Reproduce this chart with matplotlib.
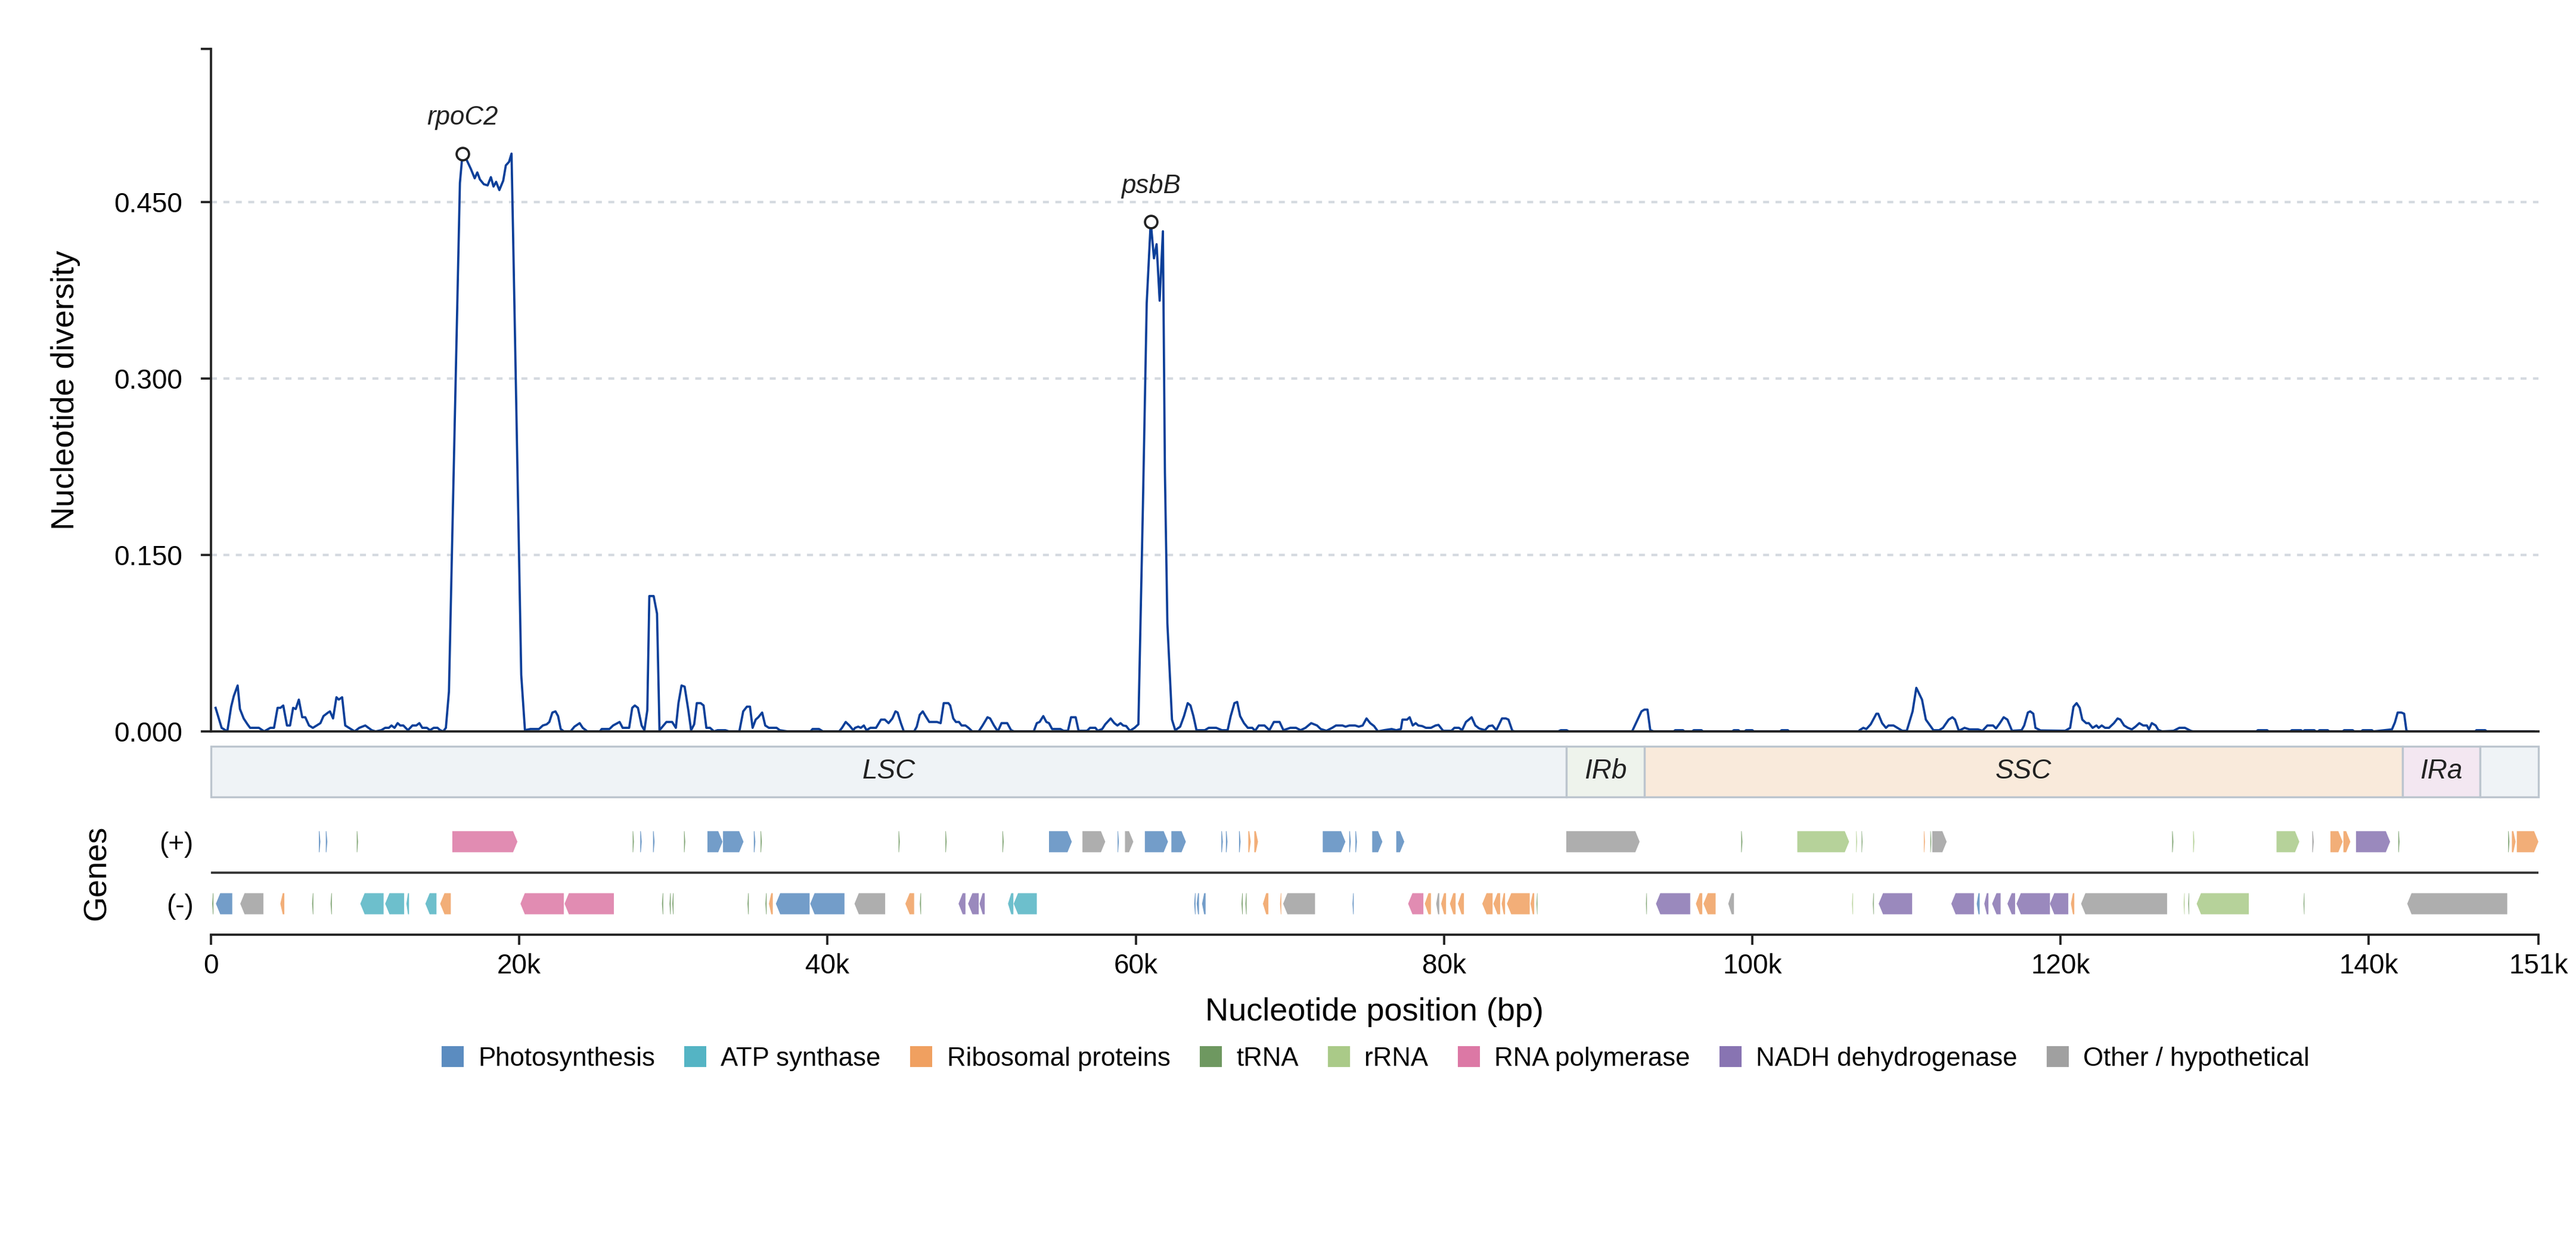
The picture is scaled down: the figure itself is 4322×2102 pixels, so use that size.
import numpy as np
import matplotlib
matplotlib.use("Agg")
import matplotlib.pyplot as plt
from matplotlib.patches import Polygon, Rectangle, Patch

plt.rcParams['font.family'] = ['Liberation Sans', 'DejaVu Sans']

# sliding window nucleotide diversity (window centre in kb, Pi)
pos_kb = [
    0.30, 0.69, 1.06, 1.31, 1.48, 1.73, 1.88, 2.12, 2.37, 2.54, 3.11, 3.45, 3.85, 4.09, 4.32, 4.51,
    4.69, 4.93, 5.13, 5.33, 5.50, 5.70, 5.92, 6.12, 6.36, 6.61, 6.86, 7.10, 7.30, 7.60, 7.72, 7.92,
    8.14, 8.29, 8.51, 8.71, 9.08, 9.32, 9.62, 10.01, 10.43, 10.68, 11.05, 11.30, 11.54, 11.71, 11.91,
    12.11, 12.28, 12.48, 12.78, 13.07, 13.32, 13.52, 13.71, 14.01, 14.21, 14.45, 14.70, 14.87, 15.07,
    15.24, 15.44, 16.15, 16.32, 16.61, 16.86, 17.11, 17.28, 17.45, 17.70, 17.95, 18.16, 18.33, 18.50,
    18.71, 18.96, 19.13, 19.34, 19.50, 19.63, 20.13, 20.37, 20.72, 21.28, 21.53, 21.78, 21.95, 22.15,
    22.35, 22.52, 22.69, 22.89, 23.33, 23.58, 23.92, 24.12, 24.42, 25.23, 25.35, 25.85, 26.09, 26.51,
    26.71, 27.13, 27.33, 27.50, 27.70, 27.94, 28.12, 28.31, 28.44, 28.72, 28.94, 29.10, 29.55, 29.92,
    30.16, 30.33, 30.53, 30.73, 30.97, 31.15, 31.35, 31.52, 31.77, 31.96, 32.14, 32.38, 32.63, 32.87,
    33.37, 33.61, 34.28, 34.53, 34.77, 34.97, 35.14, 35.34, 35.51, 35.76, 35.96, 36.20, 36.70, 36.90,
    37.40, 38.90, 39.03, 39.45, 39.70, 40.76, 40.94, 41.18, 41.42, 41.67, 41.79, 41.99, 42.16, 42.36,
    42.53, 42.78, 43.15, 43.47, 43.72, 43.96, 44.21, 44.41, 44.55, 44.76, 44.95, 45.62, 45.79, 45.98,
    46.18, 46.36, 46.60, 47.10, 47.34, 47.54, 47.84, 47.96, 48.16, 48.33, 48.53, 48.70, 48.95, 49.15,
    49.39, 49.81, 50.06, 50.38, 50.55, 50.80, 51.05, 51.29, 51.66, 51.91, 52.10, 53.38, 53.58, 53.76,
    54.00, 54.20, 54.37, 54.57, 55.11, 55.31, 55.60, 55.80, 56.10, 56.29, 56.84, 57.03, 57.38, 57.53,
    57.82, 58.02, 58.37, 58.61, 58.81, 59.01, 59.18, 59.38, 59.62, 59.92, 60.17, 60.46, 60.71, 60.97,
    61.18, 61.35, 61.55, 61.76, 61.89, 62.05, 62.35, 62.56, 62.88, 63.13, 63.37, 63.55, 63.74, 63.94,
    64.48, 64.73, 65.22, 65.59, 65.96, 66.16, 66.40, 66.58, 66.77, 67.02, 67.27, 67.56, 67.74, 67.98,
    68.35, 68.67, 68.96, 69.33, 69.58, 70.02, 70.40, 70.69, 71.01, 71.38, 71.76, 72.00, 72.37, 72.74,
    72.99, 73.41, 73.61, 73.86, 74.23, 74.47, 74.72, 74.97, 75.21, 75.46, 75.71, 76.10, 76.60, 76.90,
    77.20, 77.30, 77.60, 77.77, 77.97, 78.16, 78.33, 78.58, 78.83, 79.15, 79.45, 79.64, 79.94, 80.48,
    80.67, 80.97, 81.17, 81.42, 81.61, 81.79, 82.03, 82.28, 82.65, 82.90, 83.14, 83.39, 83.76, 84.01,
    84.18, 84.43, 84.60, 87.40, 87.58, 87.95, 88.10, 92.20, 92.81, 93.00, 93.20, 93.38, 93.60, 94.90,
    95.00, 95.50, 95.60, 96.10, 96.20, 96.70, 96.80, 98.70, 98.80, 99.10, 99.20, 99.50, 99.60, 100.00,
    100.10, 101.80, 101.90, 102.30, 102.40, 106.90, 106.96, 107.20, 107.40, 107.68, 108.05, 108.17,
    108.42, 108.67, 108.84, 109.16, 109.41, 109.73, 110.02, 110.40, 110.64, 111.01, 111.26, 111.75,
    112.12, 112.37, 112.74, 112.98, 113.15, 113.40, 113.77, 114.09, 114.64, 114.93, 115.25, 115.62,
    115.81, 116.06, 116.31, 116.55, 116.85, 117.47, 117.64, 117.88, 118.03, 118.23, 118.37, 118.70,
    120.30, 120.62, 120.84, 121.04, 121.24, 121.41, 121.66, 121.83, 122.08, 122.33, 122.47, 122.67,
    122.89, 123.14, 123.46, 123.70, 123.88, 124.12, 124.37, 124.62, 124.86, 125.11, 125.36, 125.60,
    125.73, 125.92, 126.17, 126.34, 126.59, 127.33, 127.70, 128.07, 128.44, 128.60, 132.70, 132.80,
    133.40, 133.50, 134.90, 135.00, 135.60, 135.70, 135.84, 136.46, 136.56, 136.70, 136.80, 137.33,
    137.43, 138.30, 138.40, 138.95, 139.05, 139.50, 139.60, 140.20, 140.30, 141.50, 141.69, 141.87,
    142.11, 142.29, 142.44, 142.60, 146.90, 146.98, 147.55, 147.65, 150.70,
]
diversity = [
    0.020, 0.003, 0.000, 0.021, 0.030, 0.039, 0.019, 0.011, 0.006, 0.003, 0.003, 0.000, 0.003, 0.003, 0.020, 0.020,
    0.022, 0.005, 0.005, 0.020, 0.019, 0.027, 0.012, 0.012, 0.005, 0.003, 0.005, 0.007, 0.013, 0.016, 0.017, 0.011,
    0.029, 0.027, 0.029, 0.005, 0.002, 0.000, 0.003, 0.005, 0.001, 0.000, 0.001, 0.003, 0.003, 0.005, 0.003,
    0.007, 0.005, 0.005, 0.001, 0.005, 0.005, 0.007, 0.003, 0.003, 0.001, 0.003, 0.003, 0.001, 0.000,
    0.003, 0.034, 0.466, 0.491, 0.485, 0.478, 0.470, 0.475, 0.469, 0.465, 0.464, 0.471, 0.463, 0.467,
    0.460, 0.468, 0.481, 0.484, 0.491, 0.402, 0.048, 0.001, 0.002, 0.002, 0.005, 0.006, 0.008, 0.016,
    0.017, 0.013, 0.002, 0.000, 0.000, 0.004, 0.007, 0.003, 0.000, 0.000, 0.002, 0.002, 0.005, 0.008,
    0.003, 0.003, 0.020, 0.022, 0.020, 0.005, 0.001, 0.018, 0.115, 0.115, 0.100, 0.001, 0.008, 0.008,
    0.003, 0.024, 0.039, 0.038, 0.018, 0.001, 0.006, 0.024, 0.024, 0.022, 0.003, 0.003, 0.000, 0.001,
    0.001, 0.000, 0.000, 0.017, 0.021, 0.021, 0.003, 0.010, 0.012, 0.016, 0.005, 0.003, 0.003, 0.001,
    0.000, 0.000, 0.002, 0.002, 0.000, 0.000, 0.003, 0.008, 0.005, 0.001, 0.003, 0.004, 0.003, 0.005,
    0.001, 0.003, 0.003, 0.010, 0.010, 0.007, 0.011, 0.017, 0.016, 0.007, 0.000, 0.000, 0.004, 0.014,
    0.017, 0.013, 0.008, 0.008, 0.007, 0.024, 0.024, 0.022, 0.011, 0.008, 0.008, 0.005, 0.005, 0.003,
    0.000, 0.000, 0.005, 0.012, 0.011, 0.005, 0.000, 0.007, 0.007, 0.001, 0.000, 0.000, 0.007, 0.008,
    0.013, 0.008, 0.007, 0.002, 0.002, 0.0005, 0.0005, 0.012, 0.012, 0.0005, 0.0005, 0.003, 0.003, 0.0005,
    0.002, 0.006, 0.011, 0.007, 0.005, 0.007, 0.005, 0.0045, 0.0005, 0.003, 0.006, 0.190, 0.364, 0.433,
    0.402, 0.414, 0.366, 0.425, 0.220, 0.092, 0.010, 0.001, 0.004, 0.013, 0.024, 0.022, 0.013, 0.001,
    0.001, 0.003, 0.003, 0.001, 0.001, 0.013, 0.024, 0.025, 0.013, 0.007, 0.003, 0.003, 0.0005, 0.005,
    0.005, 0.001, 0.008, 0.008, 0.001, 0.003, 0.003, 0.001, 0.003, 0.007, 0.005, 0.002, 0.0005, 0.003,
    0.005, 0.005, 0.004, 0.005, 0.005, 0.004, 0.005, 0.011, 0.007, 0.0045, 0.000, 0.001, 0.002, 0.001,
    0.002, 0.010, 0.010, 0.012, 0.005, 0.007, 0.005, 0.0045, 0.003, 0.003, 0.005, 0.0055, 0.0005, 0.0005,
    0.003, 0.003, 0.001, 0.008, 0.010, 0.012, 0.005, 0.0025, 0.001, 0.0045, 0.005, 0.001, 0.011, 0.011,
    0.010, 0.0005, 0.000, 0.000, 0.001, 0.001, 0.000, 0.000, 0.017, 0.0185, 0.0185, 0.001, 0.000, 0.000,
    0.001, 0.001, 0.000, 0.000, 0.001, 0.001, 0.000, 0.000, 0.001, 0.001, 0.000, 0.000, 0.001, 0.001,
    0.000, 0.000, 0.001, 0.001, 0.000, 0.000, 0.001, 0.003, 0.002, 0.006, 0.015, 0.015,
    0.007, 0.003, 0.005, 0.005, 0.003, 0.0005, 0.0005, 0.017, 0.037, 0.027, 0.010, 0.001,
    0.001, 0.003, 0.010, 0.012, 0.010, 0.0005, 0.003, 0.0017, 0.0017, 0.0005, 0.005, 0.005,
    0.0025, 0.007, 0.012, 0.010, 0.0005, 0.001, 0.005, 0.016, 0.017, 0.015, 0.003, 0.0008,
    0.0005, 0.003, 0.021, 0.024, 0.020, 0.010, 0.007, 0.007, 0.003, 0.005, 0.003, 0.005,
    0.003, 0.003, 0.007, 0.011, 0.010, 0.005, 0.003, 0.0017, 0.004, 0.007, 0.005, 0.005,
    0.0017, 0.007, 0.005, 0.0012, 0.000, 0.0005, 0.003, 0.003, 0.0005, 0.000, 0.000, 0.001,
    0.001, 0.000, 0.000, 0.001, 0.001, 0.000, 0.001, 0.001, 0.000, 0.000, 0.001, 0.001,
    0.000, 0.000, 0.001, 0.001, 0.000, 0.000, 0.001, 0.001, 0.000, 0.0017, 0.0076, 0.016,
    0.016, 0.015, 0.0005, 0.000, 0.000, 0.001, 0.001, 0.000, 0.000,
]

peak_genes = ['rpoC2', 'psbB']
peak_kb = [16.32, 60.97]

genome_kb = 151.0
xtick_kb = [0, 20, 40, 60, 80, 100, 120, 140, 151]
ytick_vals = [0.0, 0.15, 0.30, 0.45]

region_names = ['LSC', 'IRb', 'SSC', 'IRa', 'LSC']
region_start_kb = [0.0, 87.95, 93.0, 142.17, 147.23]
region_end_kb = [87.95, 93.0, 142.17, 147.23, 151.0]

# genes: (start kb, end kb, category)
plus_genes = [
    (7.00, 7.10, 'ps'), (7.45, 7.55, 'ps'), (9.46, 9.54, 'trna'), (15.66, 19.88, 'rpo'),
    (27.36, 27.44, 'trna'), (27.85, 27.95, 'ps'), (28.68, 28.78, 'ps'), (30.69, 30.77, 'trna'),
    (32.21, 33.19, 'ps'), (33.22, 34.55, 'ps'), (35.22, 35.32, 'ps'), (35.66, 35.74, 'trna'),
    (44.61, 44.69, 'trna'), (47.65, 47.73, 'trna'), (51.35, 51.43, 'trna'), (54.37, 55.85, 'ps'),
    (56.54, 58.02, 'other'), (58.82, 58.90, 'ps'), (59.30, 59.84, 'other'), (60.59, 62.09, 'ps'),
    (62.31, 63.25, 'ps'), (65.55, 65.65, 'ps'), (65.85, 65.95, 'ps'), (66.70, 66.80, 'ps'),
    (67.30, 67.46, 'rib'), (67.69, 67.93, 'rib'), (72.13, 73.60, 'ps'), (73.85, 73.95, 'ps'),
    (74.25, 74.35, 'ps'), (75.34, 76.00, 'ps'), (76.90, 77.42, 'ps'), (87.93, 92.69, 'other'),
    (99.28, 99.36, 'trna'), (102.92, 106.28, 'rrna'), (106.74, 106.80, 'rrna'), (107.09, 107.15, 'trna'),
    (111.13, 111.20, 'rib'), (111.55, 111.61, 'trna'), (111.68, 112.61, 'other'), (127.24, 127.32, 'trna'),
    (128.60, 128.68, 'rrna'), (134.01, 135.49, 'rrna'), (136.33, 136.43, 'other'), (137.51, 138.30, 'rib'),
    (138.35, 138.80, 'rib'), (139.17, 141.38, 'ndh'), (141.91, 141.99, 'trna'), (149.04, 149.12, 'trna'),
    (149.28, 149.52, 'rib'), (149.60, 151.00, 'rib'),
]
minus_genes = [
    (0.08, 0.16, 'trna'), (0.32, 1.38, 'ps'), (1.90, 3.40, 'other'), (4.50, 4.76, 'rib'),
    (6.56, 6.64, 'trna'), (7.76, 7.84, 'trna'), (9.69, 11.20, 'atp'), (11.30, 12.53, 'atp'),
    (12.68, 12.85, 'atp'), (13.91, 14.63, 'atp'), (14.87, 15.56, 'rib'), (20.08, 22.89, 'rpo'),
    (22.94, 26.14, 'rpo'), (29.26, 29.34, 'trna'), (29.75, 29.83, 'trna'), (29.93, 30.01, 'trna'),
    (34.81, 34.89, 'trna'), (35.97, 36.05, 'trna'), (36.20, 36.45, 'rib'), (36.65, 38.84, 'ps'),
    (38.88, 41.10, 'ps'), (41.75, 43.74, 'other'), (45.05, 45.62, 'rib'), (45.99, 46.07, 'trna'),
    (48.50, 48.95, 'ndh'), (49.12, 49.81, 'ndh'), (49.86, 50.20, 'ndh'), (51.71, 52.06, 'atp'),
    (52.08, 53.58, 'atp'), (63.79, 63.88, 'ps'), (63.95, 64.10, 'ps'), (64.30, 64.53, 'ps'),
    (66.86, 66.94, 'trna'), (67.11, 67.19, 'trna'), (68.25, 68.60, 'rib'), (69.36, 69.44, 'rib'),
    (69.56, 71.63, 'other'), (74.06, 74.14, 'ps'), (77.67, 78.66, 'rpo'), (78.75, 79.15, 'rib'),
    (79.49, 79.69, 'other'), (79.81, 80.13, 'rib'), (80.38, 80.75, 'rib'), (80.90, 81.29, 'rib'),
    (82.48, 83.15, 'rib'), (83.20, 83.64, 'rib'), (83.74, 83.96, 'rib'), (84.08, 85.56, 'rib'),
    (85.61, 85.85, 'rib'), (86.00, 86.06, 'trna'), (93.10, 93.16, 'trna'), (93.75, 95.97, 'ndh'),
    (96.34, 96.75, 'rib'), (96.83, 97.62, 'rib'), (98.44, 98.81, 'other'), (106.47, 106.53, 'rrna'),
    (107.82, 107.88, 'trna'), (108.20, 110.37, 'ndh'), (112.91, 114.38, 'ndh'), (114.56, 114.75, 'ps'),
    (115.05, 115.32, 'ndh'), (115.56, 116.11, 'ndh'), (116.55, 117.05, 'ndh'), (117.14, 119.31, 'ndh'),
    (119.31, 120.50, 'ndh'), (120.67, 120.89, 'rib'), (121.33, 126.91, 'other'), (127.99, 128.05, 'rrna'),
    (128.28, 128.34, 'trna'), (128.83, 132.21, 'rrna'), (135.76, 135.82, 'trna'), (142.49, 148.98, 'other'),
]

category_keys = ['ps', 'atp', 'rib', 'trna', 'rrna', 'rpo', 'ndh', 'other']
category_labels = ['Photosynthesis', 'ATP synthase', 'Ribosomal proteins', 'tRNA', 'rRNA',
                   'RNA polymerase', 'NADH dehydrogenase', 'Other / hypothetical']

category_colors = {'ps': '#5b8cc0', 'atp': '#54b4c4', 'rib': '#f0a060', 'trna': '#6e9860',
                   'rrna': '#aaca88', 'rpo': '#dc78a5', 'ndh': '#8874b2', 'other': '#a0a0a0'}
region_colors = {'LSC': '#eff3f6', 'IRb': '#eef3ec', 'SSC': '#f9eadb', 'IRa': '#f3e7f1'}
line_color = '#0c3f99'
dark = '#222222'


def style_spines(ax, keep):
    for side in ['top', 'right', 'left', 'bottom']:
        if side in keep:
            ax.spines[side].set_linewidth(0.9)
            ax.spines[side].set_color(dark)
        else:
            ax.spines[side].set_visible(False)


def draw_gene(ax, start_kb, end_kb, strand, cat):
    s, e = start_kb * 1000, end_kb * 1000
    y = 0.5 if strand == '+' else -0.5
    hh = 0.17
    head = min(280, (e - s) * 0.6)
    if strand == '+':
        pts = [(s, y - hh), (e - head, y - hh), (e, y), (e - head, y + hh), (s, y + hh)]
    else:
        pts = [(e, y - hh), (s + head, y - hh), (s, y), (s + head, y + hh), (e, y + hh)]
    ax.add_patch(Polygon(pts, closed=True, facecolor=category_colors[cat],
                         edgecolor='none', alpha=0.85))


fig = plt.figure(figsize=(4322 / 300, 2102 / 300), dpi=300)
ax = fig.add_axes([0.0819, 0.4163, 0.9035, 0.5447])
ax_reg = fig.add_axes([0.0819, 0.3640, 0.9035, 0.0404])
ax_gene = fig.add_axes([0.0819, 0.2540, 0.9035, 0.0990])

# diversity curve
x = np.array(pos_kb) * 1000
y = np.array(diversity)
ax.plot(x, y, color=line_color, lw=0.9, zorder=2)
ax.set_xlim(0, genome_kb * 1000)
ymax = 0.58
ax.set_ylim(0, ymax)
ax.set_yticks(ytick_vals + [ymax])
ax.set_yticklabels(['{:.3f}'.format(v) for v in ytick_vals] + [''])
for v in ytick_vals[1:]:
    ax.axhline(v, color='#d5dae0', lw=1.0, ls=(0, (2.4, 2.6)), zorder=0)
style_spines(ax, ['left', 'bottom'])
ax.tick_params(axis='x', bottom=False, labelbottom=False)
ax.tick_params(axis='y', length=4, width=0.9, color=dark, labelsize=11, pad=7.4)
ax.set_ylabel('Nucleotide diversity', fontsize=13)
ax.yaxis.set_label_coords(-0.056, 0.5)

for name, p in zip(peak_genes, peak_kb):
    i = int(np.argmin(np.abs(np.array(pos_kb) - p)))
    ax.plot(x[i], y[i], 'o', ms=5, mfc='white', mec=dark, mew=0.9, zorder=4)
    ax.annotate(name, (x[i], y[i]), xytext=(0, 9.5), textcoords='offset points',
                ha='center', va='bottom', fontsize=10.5, style='italic', color=dark)

# genome regions
for name, s, e in zip(region_names, region_start_kb, region_end_kb):
    ax_reg.add_patch(Rectangle((s * 1000, 0), (e - s) * 1000, 1, facecolor=region_colors[name],
                               edgecolor='#bcc5ce', lw=0.8, clip_on=False))
    if e - s > 4.5:
        ax_reg.text((s + e) / 2 * 1000, 0.5, name, ha='center', va='center',
                    fontsize=11, style='italic', color=dark)
ax_reg.set_xlim(0, genome_kb * 1000)
ax_reg.set_ylim(0, 1)
ax_reg.axis('off')

# gene track
for g in plus_genes:
    draw_gene(ax_gene, g[0], g[1], '+', g[2])
for g in minus_genes:
    draw_gene(ax_gene, g[0], g[1], '-', g[2])
ax_gene.axhline(0, color='#333333', lw=0.9)
ax_gene.set_xlim(0, genome_kb * 1000)
ax_gene.set_ylim(-1, 1)
style_spines(ax_gene, ['bottom'])
ax_gene.set_yticks([0.5, -0.5])
ax_gene.set_yticklabels(['(+)', '(-)'])
ax_gene.tick_params(axis='y', length=0, pad=7, labelsize=11)
ax_gene.set_xticks([k * 1000 for k in xtick_kb])
ax_gene.set_xticklabels(['0' if k == 0 else '{}k'.format(k) for k in xtick_kb])
ax_gene.tick_params(axis='x', length=4, width=0.9, color=dark, labelsize=11)
ax_gene.set_ylabel('Genes', fontsize=13)
ax_gene.yaxis.set_label_coords(-0.0425, 0.5)
ax_gene.set_xlabel('Nucleotide position (bp)', fontsize=13, labelpad=7)

handles = [Patch(facecolor=category_colors[k], label=l) for k, l in zip(category_keys, category_labels)]
fig.legend(handles=handles, loc='center', bbox_to_anchor=(0.534, 0.155), ncol=8, frameon=False,
           fontsize=10.5, handlelength=0.85, handleheight=0.85, handletextpad=0.55, columnspacing=1.13)

fig.savefig('out.png', dpi=300)
